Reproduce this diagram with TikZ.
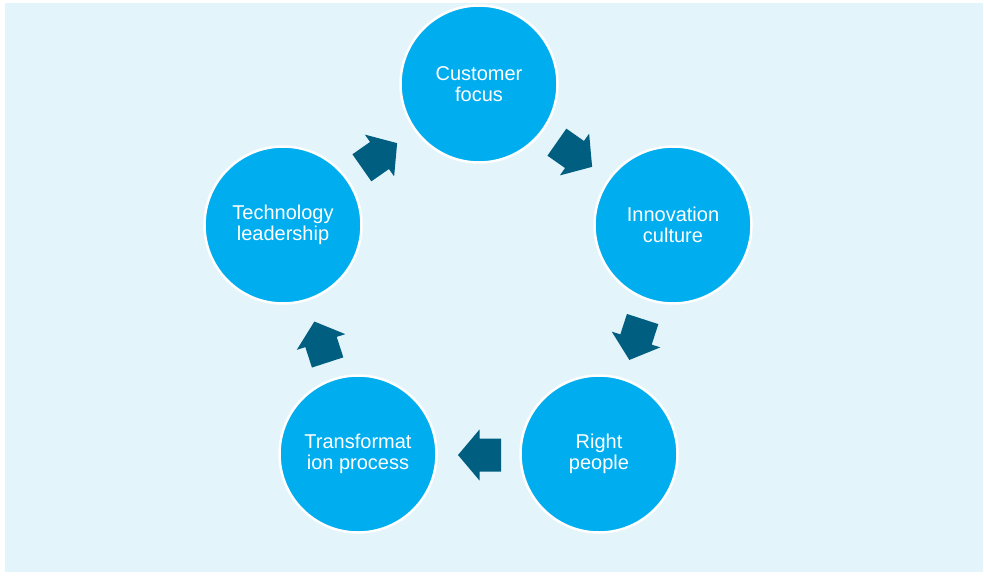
\documentclass[tikz,border=0pt]{standalone}
\usepackage{fontspec}
\setmainfont{Liberation Sans}
\definecolor{bgblue}{RGB}{227,244,251}
\definecolor{circblue}{RGB}{0,174,239}
\definecolor{arrblue}{RGB}{0,94,128}
\tikzset{
  stage/.style={circle, fill=circblue, draw=white, line width=2.5pt, minimum size=157pt,
    inner sep=0pt, align=center, text=white, font=\fontsize{20}{21.5}\selectfont},
  blockarrow/.style={fill=arrblue, draw=none}
}
\newcommand{\blockarr}[2]{%
  \fill[blockarrow, shift={#1}, rotate=#2, x=1pt, y=1pt]
    (-21.5,-16.5) -- (0,-16.5) -- (0,-25.5) -- (21.5,0) -- (0,25.5) -- (0,16.5) -- (-21.5,16.5) -- cycle;}
\begin{document}
\begin{tikzpicture}[x=1pt,y=-1pt]
\useasboundingbox (0,0) rectangle (984,575);
\fill[bgblue] (5,3) rectangle (983,572);
\node[stage] (cust) at (479,84) {Customer\\focus};
\node[stage] (inno) at (673,225) {Innovation\\culture};
\node[stage] (right) at (599,454) {Right\\people};
\node[stage] (trans) at (358,454) {Transformat\\ion process};
\node[stage] (tech) at (283,225) {Technology\\leadership};
\blockarr{(379.5,155.5)}{35}
\blockarr{(574.5,154.5)}{-35}
\blockarr{(636,339.5)}{-108}
\blockarr{(479.5,455)}{180}
\blockarr{(321,342)}{108}
\end{tikzpicture}
\end{document}
